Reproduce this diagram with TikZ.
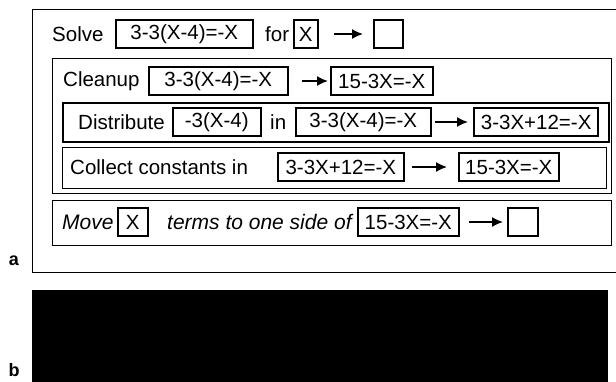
\documentclass[tikz,border=0pt]{standalone}
\usepackage{fontspec}
\setmainfont{Liberation Sans}
\usepackage{tikz}
\usetikzlibrary{arrows.meta,positioning}
\newcommand{\rowfont}{\fontsize{20.5}{23}\selectfont}

\begin{document}
\begin{tikzpicture}[
    x=1pt, y=-1pt,
    frame/.style={draw, line width=1.3pt, anchor=north west, inner sep=0pt},
    eqbox/.style={draw, line width=1.6pt, anchor=west, minimum height=28pt, inner sep=0pt, font=\rowfont},
    word/.style={anchor=west, inner sep=0pt, font=\rowfont},
    arrow/.style={-{Latex[length=11pt, width=10pt]}, line width=1.6pt}
]
\useasboundingbox (0,0) rectangle (616,381);
\clip (0,0) rectangle (616,381);

% panel a
\node[frame, minimum width=600pt, minimum height=263pt] (panela) at (32,9) {};
\node[font=\fontsize{18}{20}\selectfont\bfseries] (lbla) at (14,261) {a};

% Solve row
\node[word] (solve) at (52,34) {Solve};
\node[eqbox, minimum width=137pt] (solveeq) at (115,34) {3-3(X-4)=-X};
\node[word] (solvefor) at (265,34) {for};
\node[eqbox, minimum width=24pt] (solvevar) at (293,34) {X};
\node[eqbox, minimum width=29pt] (solveout) at (373,34) {};
\draw[arrow, shorten <=15pt, shorten >=10pt] (solvevar) -- (solveout);

% Cleanup
\node[frame, minimum width=559pt, minimum height=135pt] (cleanup) at (52,58) {};
\node[word] (cleanlbl) at (63,81) {Cleanup};
\node[eqbox, minimum width=139pt] (cleanin) at (148,81) {3-3(X-4)=-X};
\node[eqbox, minimum width=102pt] (cleanout) at (330,81) {15-3X=-X};
\draw[arrow, shorten <=13pt, shorten >=2pt] (cleanin) -- (cleanout);

% Distribute
\node[frame, line width=2.4pt, minimum width=546pt, minimum height=39pt] (distrib) at (62,102) {};
\node[word] (distlbl) at (78,122) {Distribute};
\node[eqbox, minimum width=88pt] (distterm) at (172,122) {-3(X-4)};
\node[word] (distin) at (270,122) {in};
\node[eqbox, minimum width=135pt] (distfrom) at (295,122) {3-3(X-4)=-X};
\node[eqbox, line width=2.4pt, minimum width=124pt] (distto) at (473,122) {3-3X+12=-X};
\draw[arrow, shorten <=3pt, shorten >=5pt] (distfrom) -- (distto);

% Collect constants
\node[frame, minimum width=544pt, minimum height=41pt] (collect) at (62,147) {};
\node[word] (colllbl) at (70,167) {Collect constants in};
\node[eqbox, minimum width=126pt] (collfrom) at (277,167) {3-3X+12=-X};
\node[eqbox, minimum width=100pt] (collto) at (458,167) {15-3X=-X};
\draw[arrow, shorten <=7pt, shorten >=11pt] (collfrom) -- (collto);

% Move
\node[frame, minimum width=559pt, minimum height=45pt] (move) at (52,200) {};
\node[word, font=\fontsize{21}{23}\selectfont\itshape] (movelbl) at (62,222) {Move};
\node[eqbox, minimum width=30pt] (movevar) at (117,222) {X};
\node[word, font=\fontsize{21}{23}\selectfont\itshape] (moveterms) at (167,222) {terms to one side of};
\node[eqbox, minimum width=101pt] (movefrom) at (357,222) {15-3X=-X};
\node[eqbox, minimum width=30pt] (moveout) at (507,222) {};
\draw[arrow, shorten <=9pt, shorten >=4pt] (movefrom) -- (moveout);

% panel b
\node[fill=black, anchor=north west, inner sep=0pt, minimum width=576pt, minimum height=95pt] (panelb) at (32,290) {};
\node[font=\fontsize{18}{20}\selectfont\bfseries] (lblb) at (14,370) {b};
\end{tikzpicture}
\end{document}
